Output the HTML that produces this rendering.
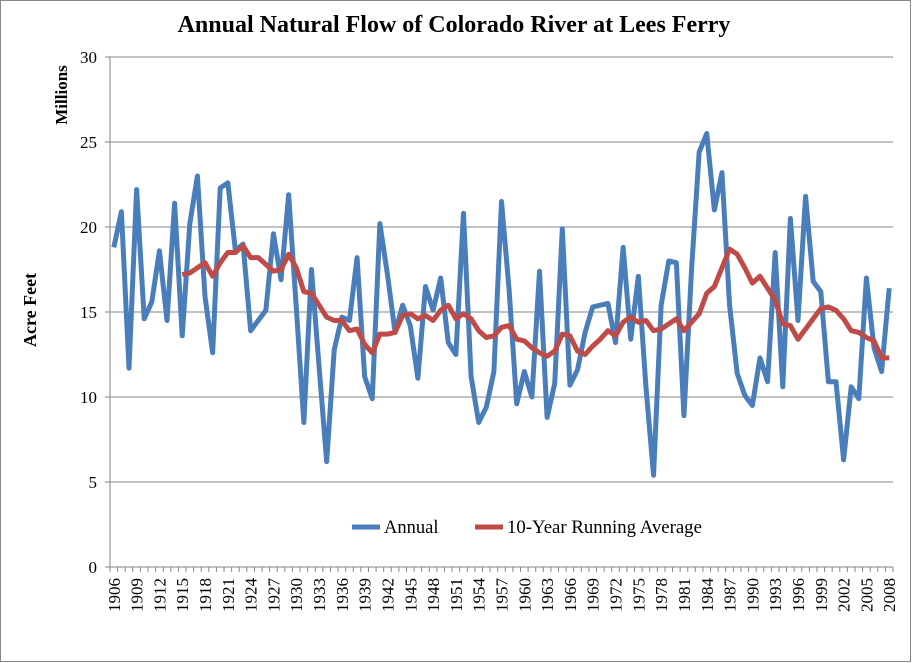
<!DOCTYPE html>
<html><head><meta charset="utf-8"><style>
body{margin:0;background:#fff}
svg{display:block;font-family:"Liberation Serif",serif}
</style></head><body>
<svg id="chart" width="912" height="663" viewBox="0 0 912 663" xmlns="http://www.w3.org/2000/svg">
<rect x="0.5" y="0.5" width="910" height="661" fill="#fff" stroke="#868686"/>
<text x="454" y="32" text-anchor="middle" font-size="24" font-weight="bold">Annual Natural Flow of Colorado River at Lees Ferry</text>
<text transform="translate(67,95) rotate(-90)" text-anchor="middle" font-size="17" font-weight="bold">Millions</text>
<text transform="translate(36,310) rotate(-90)" text-anchor="middle" font-size="18" font-weight="bold">Acre Feet</text>
<g id="grid"></g>
<g id="xaxis"></g>
<g id="series"></g>
<g>
<line x1="352" y1="527" x2="380" y2="527" stroke="#4a7ebb" stroke-width="5"/>
<text x="384" y="533" font-size="18.5">Annual</text>
<line x1="475" y1="527" x2="503" y2="527" stroke="#be4b48" stroke-width="5"/>
<text x="507" y="533" font-size="18.8">10-Year Running Average</text>
</g>
</svg>
<script>
const firstYear = 1906;
const annual = [18.8,20.9,11.7,22.2,14.6,15.6,18.6,14.5,21.4,13.6,20.2,23.0,15.9,12.6,22.3,22.6,18.6,19.0,13.9,14.5,15.1,19.6,16.9,21.9,15.3,8.5,17.5,11.8,6.2,12.8,14.7,14.5,18.2,11.2,9.9,20.2,17.2,13.8,15.4,14.2,11.1,16.5,15.1,17.0,13.2,12.5,20.8,11.2,8.5,9.4,11.5,21.5,16.3,9.6,11.5,10.0,17.4,8.8,10.8,19.9,10.7,11.6,13.8,15.3,15.4,15.5,13.2,18.8,13.4,17.1,10.6,5.4,15.4,18.0,17.9,8.9,17.5,24.4,25.5,21.0,23.2,15.4,11.4,10.1,9.5,12.3,10.9,18.5,10.6,20.5,14.5,21.8,16.8,16.2,10.9,10.9,6.3,10.6,9.9,17.0,12.9,11.5,16.4];
const avgStartYear = 1915;
const runningAvg = [17.2,17.3,17.6,17.9,17.1,17.9,18.5,18.5,18.9,18.2,18.2,17.8,17.4,17.5,18.4,17.6,16.2,16.1,15.4,14.7,14.5,14.5,13.9,14.0,13.1,12.6,13.7,13.7,13.8,14.8,14.9,14.6,14.8,14.5,15.1,15.4,14.6,14.9,14.6,13.9,13.5,13.6,14.1,14.2,13.4,13.3,12.9,12.6,12.4,12.7,13.7,13.6,12.7,12.5,13.0,13.4,13.9,13.6,14.4,14.7,14.4,14.5,13.9,14.0,14.3,14.6,13.9,14.4,14.9,16.1,16.5,17.6,18.7,18.4,17.6,16.7,17.1,16.4,15.7,14.3,14.2,13.4,14.0,14.6,15.2,15.3,15.1,14.6,13.9,13.8,13.5,13.3,12.3,12.3];
const yTicks = [0,5,10,15,20,25,30];
const NS='http://www.w3.org/2000/svg';
const plotLeft=110, plotRight=893, plotTop=57, plotBottom=567, yMax=30;
const nCat=annual.length, step=(plotRight-plotLeft)/nCat;
function xPos(i){return plotLeft+step*(i+0.5);}
function yPos(v){return plotBottom-(v/yMax)*(plotBottom-plotTop);}
function mk(tag,attrs,parent){const e=document.createElementNS(NS,tag);for(const k in attrs)e.setAttribute(k,attrs[k]);parent.appendChild(e);return e;}
const grid=document.getElementById('grid');
yTicks.forEach(t=>{
  const y=yPos(t);
  if(t>0){const g=mk('line',{x1:plotLeft,x2:plotRight,y1:y,y2:y,stroke:'#868686','stroke-width':1},grid);
  
  }
  const tk=mk('line',{x1:plotLeft-5,x2:plotLeft,y1:y,y2:y,stroke:'#868686'},grid);
  
  
  const tx=mk('text',{x:plotLeft-13,y:y+6,'text-anchor':'end','font-size':17},grid);
  tx.textContent=t;
  
  
});
const yax=mk('line',{x1:plotLeft,x2:plotLeft,y1:plotTop,y2:plotBottom,stroke:'#868686'},grid);


const xa=document.getElementById('xaxis');
const xl=mk('line',{x1:plotLeft,x2:plotRight,y1:plotBottom,y2:plotBottom,stroke:'#868686'},xa);


for(let i=0;i<=nCat;i++){
  const x=plotLeft+step*i;
  const t=mk('line',{x1:x,x2:x,y1:plotBottom,y2:plotBottom+5,stroke:'#868686'},xa);
  
  
}
for(let i=0;i<nCat;i+=3){
  const x=xPos(i);
  const tx=mk('text',{transform:`translate(${x+6},${plotBottom+11}) rotate(-90)`,'text-anchor':'end','font-size':17},xa);
  tx.textContent=firstYear+i;
  
  
}
const ser=document.getElementById('series');
const p1=mk('polyline',{points:annual.map((v,i)=>xPos(i)+','+yPos(v)).join(' '),fill:'none',stroke:'#4a7ebb','stroke-width':5,'stroke-linejoin':'round'},ser);


const off=avgStartYear-firstYear;
const p2=mk('polyline',{points:runningAvg.map((v,i)=>xPos(i+off)+','+yPos(v)).join(' '),fill:'none',stroke:'#be4b48','stroke-width':5,'stroke-linejoin':'round'},ser);


</script>
</body></html>
